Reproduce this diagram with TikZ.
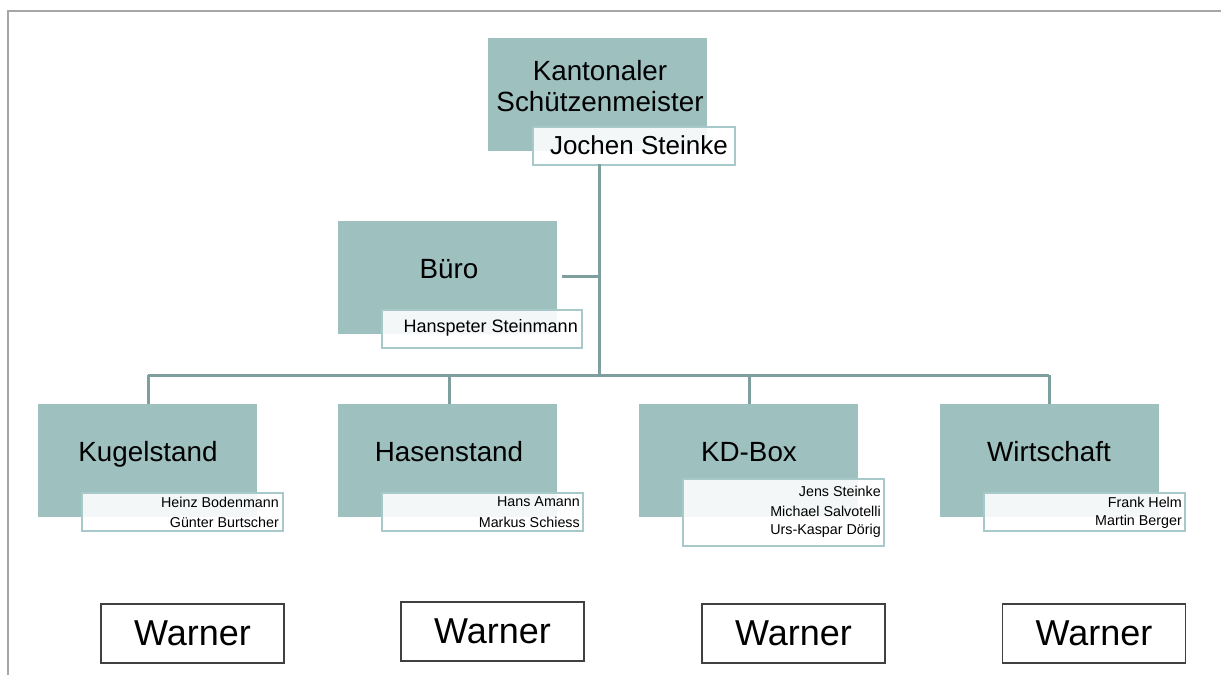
\documentclass[tikz,border=0pt]{standalone}
\usepackage{fontspec}
\setmainfont{Liberation Sans}
\definecolor{tealfill}{HTML}{9EC0BF}
\definecolor{connline}{HTML}{7F9E9E}
\definecolor{wbord}{HTML}{A8C9C9}
\definecolor{framegray}{HTML}{A6A6A6}
\definecolor{warnbord}{HTML}{404040}
\begin{document}
\begin{tikzpicture}[x=1pt,y=-1pt,
  tealbox/.style={fill=tealfill, draw=none, minimum width=219pt, minimum height=113pt, inner sep=0pt, anchor=north west},
  namebox/.style={fill=white, fill opacity=0.88, text opacity=1, draw=wbord, draw opacity=1, line width=1.5pt, minimum width=201pt, minimum height=38pt, inner sep=0pt, anchor=north west},
  bigtxt/.style={font=\fontsize{27.8}{31}\selectfont, align=center, inner sep=0pt},
  medtxt/.style={font=\fontsize{18}{21}\selectfont, inner sep=0pt, anchor=east},
  smalltxt/.style={font=\fontsize{14.3}{20}\selectfont, inner sep=0pt, anchor=east},
  conn/.style={draw=connline, line width=3pt},
  warnbox/.style={draw=warnbord, line width=1.3pt, fill=white, minimum width=183pt, minimum height=59pt, inner sep=0pt, font=\fontsize{36}{40}\selectfont}
]
\useasboundingbox (0,0) rectangle (1221,675);
\fill[white] (0,0) rectangle (1221,675);
% frame
\draw[framegray, line width=2pt] (8,675) -- (8,11) -- (1221,11);

% connector coordinates
\coordinate (topdrop) at (599,164);
\coordinate (bus) at (599,375);
\coordinate (buerojoin) at (599,276);
\coordinate (buerostub) at (562,276);
\coordinate (busL) at (148,375);
\coordinate (busR) at (1049,375);
\coordinate (busB) at (449,375);
\coordinate (busC) at (749,375);

% top
\node[tealbox] (kant) at (488,38) {};
\node[bigtxt] (kanttxt) at (600,86) {Kantonaler\\Schützenmeister};
\node[namebox, minimum width=202pt] (jochen) at (532,126) {};
\node[bigtxt, anchor=east, font=\fontsize{26}{30}\selectfont] (jochentxt) at (728,145) {Jochen Steinke};

% Büro
\node[tealbox] (buero) at (338,221) {};
\node[bigtxt] (buerotxt) at (449,269) {Büro};
\node[namebox, minimum width=200pt] (hans) at (381,309) {};
\node[medtxt] (hanstxt) at (578,328) {Hanspeter Steinmann};

% second level
\node[tealbox] (kug) at (38,404) {};
\node[bigtxt] (kugtxt) at (148,454) {Kugelstand};
\node[namebox] (kugn) at (81,492) {};
\node[smalltxt] (kugn1) at (279,502) {Heinz Bodenmann};
\node[smalltxt] (kugn2) at (279,522) {Günter Burtscher};

\node[tealbox] (has) at (338,404) {};
\node[bigtxt] (hastxt) at (449,452) {Hasenstand};
\node[namebox] (hasn) at (381,492) {};
\node[smalltxt] (hasn1) at (580,502) {Hans Amann};
\node[smalltxt] (hasn2) at (580,522) {Markus Schiess};

\node[tealbox] (kd) at (639,404) {};
\node[bigtxt] (kdtxt) at (749,452) {KD-Box};
\node[namebox, minimum height=67pt] (kdn) at (682,478) {};
\node[smalltxt] (kdn1) at (881,491) {Jens Steinke};
\node[smalltxt] (kdn2) at (881,511) {Michael Salvotelli};
\node[smalltxt] (kdn3) at (881,531) {Urs-Kaspar Dörig};

\node[tealbox] (wirt) at (940,404) {};
\node[bigtxt] (wirttxt) at (1049,452) {Wirtschaft};
\node[namebox] (wirtn) at (983,492) {};
\node[smalltxt] (wirtn1) at (1182,502) {Frank Helm};
\node[smalltxt] (wirtn2) at (1182,522) {Martin Berger};

% connectors
\draw[conn] (topdrop) -- (bus);
\draw[conn] (buerostub) -- (buerojoin);
\draw[conn] (busL) -- (busR);
\draw[conn] (busL) -- (busL |- kug.north);
\draw[conn] (busB) -- (busB |- has.north);
\draw[conn] (busC) -- (busC |- kd.north);
\draw[conn] (busR) -- (busR |- wirt.north);

% Warner
\node[warnbox] (w1) at (192.5,633.5) {Warner};
\node[warnbox] (w2) at (492.5,631.5) {Warner};
\node[warnbox] (w3) at (793.5,633.5) {Warner};
\node[warnbox] (w4) at (1094,633.5) {Warner};
\end{tikzpicture}
\end{document}
